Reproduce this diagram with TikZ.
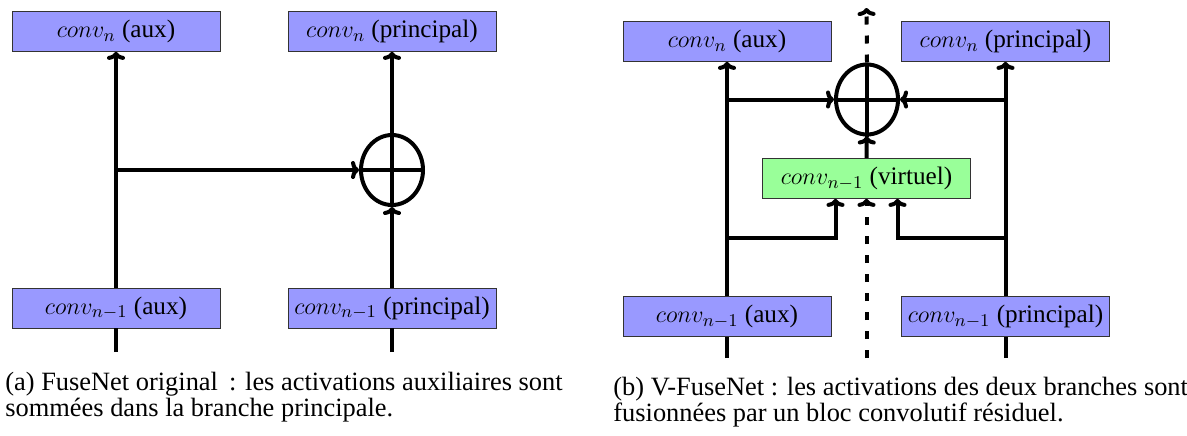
\documentclass[tikz,border=0pt]{standalone}
\usepackage{fontspec}
\setmainfont{Liberation Serif}
\usetikzlibrary{arrows.meta, positioning, shapes.geometric}

\tikzset{
  convbox/.style={draw=black!80, fill=blue!40, minimum width=104pt,
    minimum height=20pt, inner sep=1pt, font=\fontsize{12.6}{15}\selectfont},
  virtbox/.style={convbox, fill=green!40},
  sumnode/.style={ellipse, draw, line width=2pt, inner sep=0pt,
    minimum width=31pt, minimum height=35pt},
  plain/.style={line width=2pt},
  flow/.style={plain, -{To[length=4pt, width=9pt]}},
  virtflow/.style={flow, dash pattern=on 4pt off 5.5pt},
  caption/.style={align=left, anchor=base west, inner sep=0pt,
    font=\fontsize{13.2}{13}\selectfont}
}

\begin{document}
\begin{tikzpicture}[x=0.5pt, y=-0.5pt]
  \useasboundingbox (0,0) rectangle (1187,435);

  % (a) FuseNet original
  \node[convbox] (auxN) at (116,31.5) {$conv_n$ (aux)};
  \node[convbox] (prinN) at (392,31.5) {$conv_n$ (principal)};
  \node[convbox] (auxP) at (116,308) {$conv_{n-1}$ (aux)};
  \node[convbox] (prinP) at (392,308) {$conv_{n-1}$ (principal)};
  \node[sumnode] (sumA) at (392,170) {};
  \coordinate (auxIn) at (116,352);
  \coordinate (prinIn) at (392,352);
  \coordinate (tapA) at (116,170);

  \draw[plain] (auxIn) -- (auxP.south);
  \draw[flow] (auxP) -- (auxN);
  \draw[plain] (prinIn) -- (prinP.south);
  \draw[flow] (prinP) -- (sumA);
  \draw[flow] (sumA) -- (prinN);
  \draw[flow] (tapA) -- (sumA.west);
  \draw[plain] (sumA.north) -- (sumA.south) (sumA.west) -- (sumA.east);

  % (b) V-FuseNet
  \node[convbox] (vauxN) at (727,41.5) {$conv_n$ (aux)};
  \node[convbox] (vprinN) at (1005.5,41.5) {$conv_n$ (principal)};
  \node[convbox] (vauxP) at (727,316.5) {$conv_{n-1}$ (aux)};
  \node[convbox] (vprinP) at (1005.5,316.5) {$conv_{n-1}$ (principal)};
  \node[sumnode] (sumB) at (867,99.5) {};
  \node[virtbox] (virt) at (866.5,178.5) {$conv_{n-1}$ (virtuel)};
  \coordinate (vauxIn) at (727,358);
  \coordinate (vprinIn) at (1005.5,358);
  \coordinate (virtIn) at (866.5,358);
  \coordinate (virtOut) at (866.5,8);
  \coordinate (tapB1) at (727,99.5);
  \coordinate (tapB2) at (1005.5,99.5);
  \coordinate (tapB3) at (727,238);
  \coordinate (tapB4) at (1005.5,238);

  \draw[plain] (vauxIn) -- (vauxP.south);
  \draw[flow] (vauxP) -- (vauxN);
  \draw[plain] (vprinIn) -- (vprinP.south);
  \draw[flow] (vprinP) -- (vprinN);
  \draw[flow] (tapB1) -- (sumB.west);
  \draw[flow] (tapB2) -- (sumB.east);
  \draw[flow] (tapB3) -| ([xshift=-15.5pt]virt.south);
  \draw[flow] (tapB4) -| ([xshift=15.5pt]virt.south);
  \draw[virtflow] (virtIn) -- (virt.south);
  \draw[flow] (virt) -- (sumB);
  \draw[virtflow] (sumB.north) -- (virtOut);
  \draw[plain] (sumB.north) -- (sumB.south) (sumB.west) -- (sumB.east);

  % captions
  \node[caption] (capA) at (5,416)
    {(a) FuseNet original\, : les activations auxiliaires sont\\
     sommées dans la branche principale.};
  \node[caption] (capB) at (613,421)
    {(b) V-FuseNet : les activations des deux branches sont\\
     fusionnées par un bloc convolutif résiduel.};
\end{tikzpicture}
\end{document}
